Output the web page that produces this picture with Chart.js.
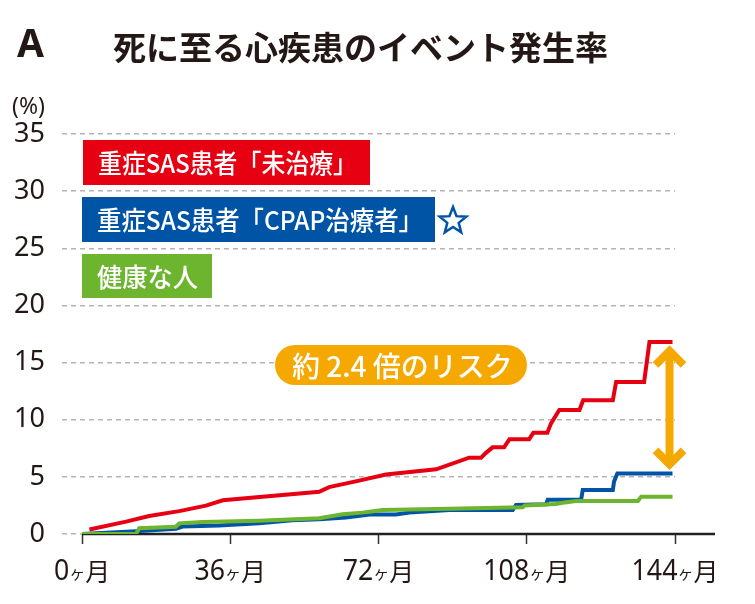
<!DOCTYPE html>
<html>
<head>
<meta charset="utf-8">
<script src="https://cdn.jsdelivr.net/npm/chart.js@4.4.1/dist/chart.umd.min.js"></script>
<style>
  html, body { margin: 0; padding: 0; background: #fff; }
  #wrap { width: 755px; height: 604px; }
</style>
</head>
<body>
<div id="wrap"><canvas id="riskChart" width="755" height="604"></canvas></div>
<script>
// --- data (months, %) ---
const monthTicks = [0, 36, 72, 108, 144];
const seriesNames = ['重症SAS患者「未治療」', '重症SAS患者「CPAP治療者」', '健康な人'];

const untreatedMonths = [1.8, 10.7, 16.3, 23.6, 30.1, 34.2, 57.6, 60, 67.3, 73.8, 86, 94, 96.9, 98.1, 99.7, 102.5, 103.8, 108.6, 109.6, 113, 113.9, 115.9, 120.8, 121.7, 128.9, 129.7, 136.5, 137.8, 143.4];
const untreatedRate   = [0.4, 1.08, 1.57, 2.0, 2.48, 2.95, 3.7, 4.1, 4.67, 5.2, 5.66, 6.68, 6.68, 7.1, 7.58, 7.58, 8.3, 8.3, 8.86, 8.86, 9.68, 10.85, 10.85, 11.7, 11.7, 13.3, 13.3, 16.8, 16.8];

const cpapMonths = [0, 13.1, 22.8, 24.4, 33.3, 43, 51.1, 57.6, 64.1, 69.8, 76.2, 79.5, 89.2, 104.6, 105.4, 112.7, 113.1, 121.2, 121.6, 128.9, 129.2, 130, 143.4];
const cpapRate   = [0, 0.25, 0.45, 0.65, 0.75, 0.95, 1.2, 1.28, 1.45, 1.7, 1.7, 1.87, 2.1, 2.1, 2.54, 2.6, 3.0, 3.0, 3.85, 3.85, 4.6, 5.3, 5.3];

const healthyMonths = [0, 13.1, 13.9, 22.8, 23.6, 29.3, 43, 57.6, 63.3, 68.1, 69.8, 73, 89.2, 107, 107.5, 115.1, 116.7, 120, 135, 135.8, 143.4];
const healthyRate   = [0, 0, 0.5, 0.64, 0.93, 1.05, 1.17, 1.37, 1.72, 1.87, 1.95, 2.1, 2.21, 2.33, 2.5, 2.62, 2.74, 2.89, 2.89, 3.27, 3.27];

const RED = '#e60012', BLUE = '#0054a6', GREEN = '#6db52f', ORANGE = '#f5a800';
const INK = '#231815';
const JP = '"Noto Sans CJK JP", "Noto Sans", sans-serif';

function pts(xs, ys) {
  return xs.map((m, i) => ({ x: m, y: ys[i] }));
}

// text squeezed to a given width if needed
function fitText(ctx, txt, x, y, w) {
  const mw = ctx.measureText(txt).width;
  ctx.save();
  ctx.translate(x, y);
  if (mw > w) ctx.scale(w / mw, 1);
  ctx.fillText(txt, 0, 0);
  ctx.restore();
}

function star(ctx, cx, cy, r1, r2) {
  ctx.beginPath();
  for (let i = 0; i < 10; i++) {
    const r = i % 2 ? r2 : r1;
    const a = -Math.PI / 2 + i * Math.PI / 5;
    ctx.lineTo(cx + r * Math.cos(a), cy + r * Math.sin(a));
  }
  ctx.closePath();
}

const decor = {
  id: 'decor',
  beforeDatasetsDraw(chart) {
    const ctx = chart.ctx, xs = chart.scales.x, a = chart.chartArea;
    // solid x axis line from month 0 to the right end
    ctx.save();
    ctx.strokeStyle = '#222';
    ctx.lineWidth = 2.5;
    ctx.beginPath();
    ctx.moveTo(xs.getPixelForValue(0), a.bottom);
    ctx.lineTo(a.right + 40, a.bottom);
    ctx.stroke();
    ctx.restore();
  },
  afterDatasetsDraw(chart) {
    const ctx = chart.ctx, xs = chart.scales.x, ys = chart.scales.y;
    ctx.save();
    ctx.textBaseline = 'middle';
    ctx.textAlign = 'left';

    // title
    ctx.fillStyle = INK;
    ctx.font = 'bold 39px "Noto Sans", sans-serif';
    ctx.fillText('A', 17, 46);
    ctx.font = 'bold 33px ' + JP;
    fitText(ctx, '死に至る心疾患のイベント発生率', 113, 47, 510);
    ctx.font = '23px "Noto Sans", sans-serif';
    fitText(ctx, '(%)', 12, 107, 35);

    // legend boxes
    const boxes = [
      { c: RED,   x: 83, y: 140, w: 287, h: 45, tw: 259 },
      { c: BLUE,  x: 82, y: 197, w: 353, h: 45, tw: 326 },
      { c: GREEN, x: 82, y: 254, w: 130, h: 44, tw: 101 }
    ];
    ctx.font = '500 26px ' + JP;
    boxes.forEach((b, i) => {
      ctx.fillStyle = b.c;
      ctx.fillRect(b.x, b.y, b.w, b.h);
      ctx.fillStyle = '#fff';
      fitText(ctx, seriesNames[i], b.x + 15, b.y + b.h / 2 + 1, b.tw);
    });
    ctx.strokeStyle = BLUE;
    ctx.fillStyle = '#fff';
    ctx.lineWidth = 2.5;
    ctx.lineJoin = 'miter';
    star(ctx, 453, 221, 14, 6);
    ctx.fill();
    ctx.stroke();

    // 約2.4倍 badge
    ctx.fillStyle = ORANGE;
    ctx.beginPath();
    ctx.roundRect(275, 345, 252, 40, 20);
    ctx.fill();
    ctx.fillStyle = '#fff';
    ctx.font = '500 28px ' + JP;
    fitText(ctx, '約 2.4 倍のリスク', 292, 366, 221);

    // double arrow between red and blue end values
    const ax = xs.getPixelForValue(143.4) - 3;
    const yTop = ys.getPixelForValue(untreatedRate[untreatedRate.length - 1]) + 4;
    const yBot = ys.getPixelForValue(cpapRate[cpapRate.length - 1]) - 4;
    ctx.strokeStyle = ORANGE;
    ctx.lineWidth = 8;
    ctx.lineCap = 'butt';
    ctx.beginPath();
    ctx.moveTo(ax, yTop + 6);
    ctx.lineTo(ax, yBot - 6);
    ctx.stroke();
    ctx.beginPath();
    ctx.moveTo(ax - 14, yTop + 19);
    ctx.lineTo(ax, yTop + 5);
    ctx.lineTo(ax + 14, yTop + 19);
    ctx.moveTo(ax - 14, yBot - 19);
    ctx.lineTo(ax, yBot - 5);
    ctx.lineTo(ax + 14, yBot - 19);
    ctx.stroke();

    // x tick labels: number + small ヶ + 月
    ctx.fillStyle = INK;
    ctx.textBaseline = 'alphabetic';
    monthTicks.forEach(m => {
      const num = String(m);
      ctx.font = '29px "Noto Sans", sans-serif';
      const wn = ctx.measureText(num).width * 0.92;
      ctx.font = '16px ' + JP;
      const wk = ctx.measureText('ヶ').width;
      ctx.font = '25px ' + JP;
      const wm = ctx.measureText('月').width;
      let x = xs.getPixelForValue(m) - (wn + wk + wm) / 2;
      const base = 580;
      ctx.save();
      ctx.translate(x, base);
      ctx.scale(0.92, 1);
      ctx.font = '29px "Noto Sans", sans-serif';
      ctx.fillText(num, 0, 0);
      ctx.restore();
      x += wn;
      ctx.font = '16px ' + JP;
      ctx.fillText('ヶ', x, base - 1);
      x += wk;
      ctx.font = '25px ' + JP;
      ctx.fillText('月', x, base + 1);
    });
    ctx.restore();
  }
};

const ctxc = document.getElementById('riskChart');

new Chart(ctxc, {
  type: 'line',
  data: {
    datasets: [
      { label: seriesNames[2], data: pts(healthyMonths, healthyRate), borderColor: GREEN },
      { label: seriesNames[1], data: pts(cpapMonths, cpapRate), borderColor: BLUE },
      { label: seriesNames[0], data: pts(untreatedMonths, untreatedRate), borderColor: RED }
    ]
  },
  options: {
    responsive: false,
    devicePixelRatio: 1,
    animation: false,
    elements: {
      line: { borderWidth: 4, tension: 0, fill: false, borderCapStyle: 'butt' },
      point: { radius: 0 }
    },
    layout: { padding: { left: 0, right: 80, top: 134, bottom: 0 } },
    plugins: { legend: { display: false }, tooltip: { enabled: false } },
    scales: {
      x: {
        type: 'linear',
        min: -4.86,
        max: 144,
        afterBuildTicks: s => { s.ticks = monthTicks.map(v => ({ value: v })); },
        afterFit: s => { s.height = 70; },
        ticks: { display: false },
        border: { display: false },
        grid: { drawOnChartArea: false, drawTicks: true, tickLength: 10, tickColor: '#333', tickWidth: 1.5 }
      },
      y: {
        min: 0,
        max: 35,
        afterFit: s => { s.width = 62; },
        ticks: { stepSize: 5, padding: 17, color: INK, font: { family: '"Noto Sans", sans-serif', size: 27 } },
        border: { display: false, dash: [5, 4] },
        grid: { color: '#b4b4b4', lineWidth: 1.5, drawTicks: false }
      }
    }
  },
  plugins: [decor]
});
</script>
</body>
</html>
